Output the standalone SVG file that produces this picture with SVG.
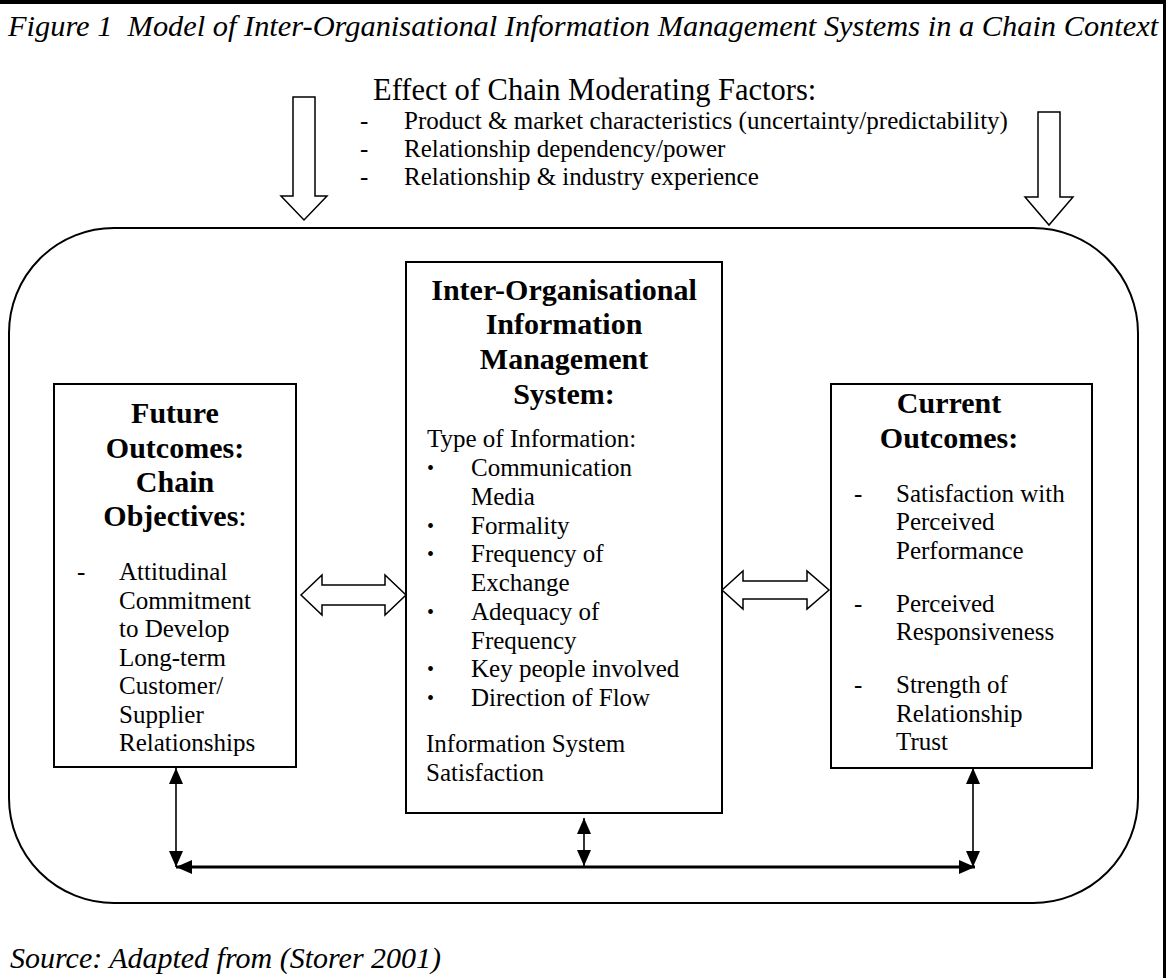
<svg xmlns="http://www.w3.org/2000/svg" width="1166" height="978" viewBox="0 0 1166 978">
<style>
text{font-family:"Liberation Serif","Times New Roman",serif;fill:#000}
.it{font-style:italic;font-size:30px}
.ti{font-style:italic;font-size:30.4px}
.hd{font-size:30.5px}
.b{font-size:25px}
.bh{font-size:30px;font-weight:bold;text-anchor:middle}
.dot{font-size:20px}
.box{fill:#fff;stroke:#000;stroke-width:2}
.hollow{fill:#fff;stroke:#000;stroke-width:1.5;stroke-linejoin:miter}
.thin{stroke:#000;stroke-width:1.6;fill:none}
.thick{stroke:#000;stroke-width:2.8;fill:none}
</style>
<defs>
<marker id="ah" markerUnits="userSpaceOnUse" markerWidth="16" markerHeight="14" viewBox="0 0 16 14" refX="16" refY="7" orient="auto-start-reverse">
<path d="M0,0 L16,7 L0,14 z" fill="#000"/>
</marker>
</defs>
<rect x="0" y="0" width="1166" height="978" fill="#fff"/>
<g id="frame">
<line x1="0" y1="2" x2="1166" y2="2" stroke="#000" stroke-width="4"/>
<line x1="1164.5" y1="0" x2="1164.5" y2="978" stroke="#000" stroke-width="3"/>
</g>
<g id="title">
<text class="ti" x="8" y="36" xml:space="preserve">Figure 1  Model of Inter-Organisational Information Management Systems in a Chain Context</text>
</g>
<g id="moderating-factors">
<text class="hd" x="373" y="100">Effect of Chain Moderating Factors:</text>
<text class="b" x="360" y="129">-</text><text class="b" x="404" y="129">Product &amp; market characteristics (uncertainty/predictability)</text>
<text class="b" x="360" y="157">-</text><text class="b" x="404" y="157">Relationship dependency/power</text>
<text class="b" x="360" y="185">-</text><text class="b" x="404" y="185">Relationship &amp; industry experience</text>
</g>
<g id="context-boundary">
<rect x="9" y="228" width="1129" height="675" rx="105" ry="105" fill="none" stroke="#000" stroke-width="2"/>
</g>
<g id="arrow-left-down">
<polygon class="hollow" points="293,97 315,97 315,196 327,196 304,220 281,196 293,196"/>
</g>
<g id="arrow-right-down">
<polygon class="hollow" points="1038,112 1060,112 1060,197 1073,197 1049,225 1025,197 1038,197"/>
</g>
<g id="future-outcomes">
<rect class="box" x="54" y="384" width="242" height="383"/>
<text class="bh" x="175" y="423">Future</text>
<text class="bh" x="175" y="458">Outcomes:</text>
<text class="bh" x="175" y="492">Chain</text>
<text class="bh" x="175" y="526">Objectives<tspan font-weight="normal">:</tspan></text>
<text class="b" x="77" y="580">-</text>
<text class="b" x="119" y="580">Attitudinal</text>
<text class="b" x="119" y="608.5">Commitment</text>
<text class="b" x="119" y="637">to Develop</text>
<text class="b" x="119" y="665.5">Long-term</text>
<text class="b" x="119" y="694">Customer/</text>
<text class="b" x="119" y="722.5">Supplier</text>
<text class="b" x="119" y="751">Relationships</text>
</g>
<g id="iims">
<rect class="box" x="406" y="262" width="316" height="551"/>
<text class="bh" x="564" y="300">Inter-Organisational</text>
<text class="bh" x="564" y="334">Information</text>
<text class="bh" x="564" y="369">Management</text>
<text class="bh" x="564" y="404">System:</text>
<text class="b" x="427" y="447">Type of Information:</text>
<text class="dot" x="427" y="475">•</text><text class="b" x="471" y="476">Communication</text>
<text class="b" x="471" y="505">Media</text>
<text class="dot" x="427" y="533">•</text><text class="b" x="471" y="534">Formality</text>
<text class="dot" x="427" y="561">•</text><text class="b" x="471" y="562">Frequency of</text>
<text class="b" x="471" y="591">Exchange</text>
<text class="dot" x="427" y="619">•</text><text class="b" x="471" y="620">Adequacy of</text>
<text class="b" x="471" y="649">Frequency</text>
<text class="dot" x="427" y="676">•</text><text class="b" x="471" y="677">Key people involved</text>
<text class="dot" x="427" y="705">•</text><text class="b" x="471" y="706">Direction of Flow</text>
<text class="b" x="426" y="752">Information System</text>
<text class="b" x="426" y="781">Satisfaction</text>
</g>
<g id="current-outcomes">
<rect class="box" x="831" y="384" width="261" height="384"/>
<text class="bh" x="949" y="413">Current</text>
<text class="bh" x="949" y="448">Outcomes:</text>
<text class="b" x="854" y="502">-</text>
<text class="b" x="896" y="502">Satisfaction with</text>
<text class="b" x="896" y="530">Perceived</text>
<text class="b" x="896" y="559">Performance</text>
<text class="b" x="854" y="612">-</text>
<text class="b" x="896" y="612">Perceived</text>
<text class="b" x="896" y="640">Responsiveness</text>
<text class="b" x="854" y="693">-</text>
<text class="b" x="896" y="693">Strength of</text>
<text class="b" x="896" y="722">Relationship</text>
<text class="b" x="896" y="750">Trust</text>
</g>
<g id="connectors">
<polygon class="hollow" points="301,595 322,575 322,585 385,585 385,575 406,595 385,615 385,605 322,605 322,615"/>
<polygon class="hollow" points="722,590 743,571 743,581 807,581 807,571 829,590 807,609 807,599 743,599 743,609"/>
<line class="thin" x1="176" y1="768" x2="176" y2="867" marker-start="url(#ah)" marker-end="url(#ah)"/>
<line class="thin" x1="584" y1="818" x2="584" y2="866" marker-start="url(#ah)" marker-end="url(#ah)"/>
<line class="thin" x1="973" y1="768" x2="973" y2="867" marker-start="url(#ah)" marker-end="url(#ah)"/>
<line class="thick" x1="176" y1="867" x2="975" y2="867" marker-start="url(#ah)" marker-end="url(#ah)"/>
</g>
<g id="source">
<text class="it" x="10" y="968">Source: Adapted from (Storer 2001)</text>
</g>
</svg>
